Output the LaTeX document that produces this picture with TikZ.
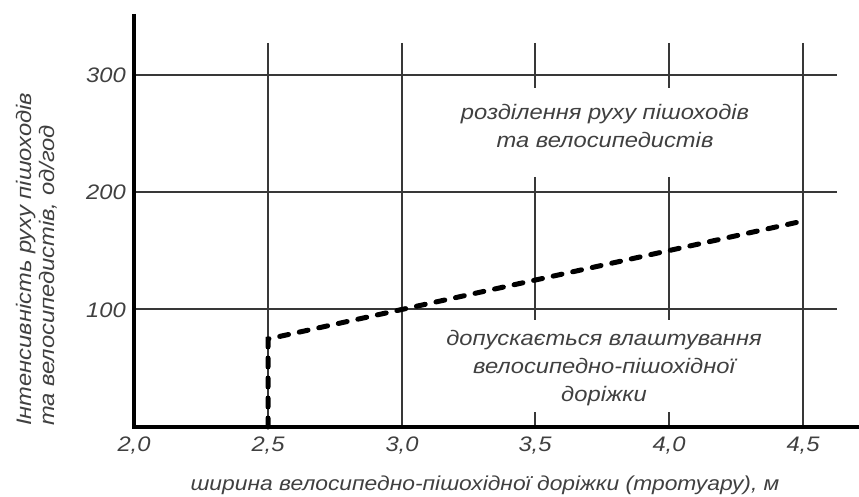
\documentclass[tikz,border=0pt]{standalone}
\usepackage{fontspec}
\setmainfont{Liberation Sans}[FakeStretch=1.13]
\begin{document}
\begin{tikzpicture}[x=1pt,y=-1pt,
  gridline/.style={draw=black!78,line width=1.8pt},
  axisline/.style={draw=black,line width=3.6pt},
  bound/.style={draw=black,line width=5pt,line cap=round,dash pattern=on 9pt off 11pt},
  lbl/.style={text=black!75,inner sep=0pt,font=\fontsize{21}{28}\selectfont\itshape},
  area/.style={lbl,align=center}]
\useasboundingbox (0,0) rectangle (859,497);
% horizontal grid lines
\foreach \yy in {75,192,309} \draw[gridline] (134,\yy) -- (837,\yy);
% vertical grid lines
\foreach \xx in {268,402,803} \draw[gridline] (\xx,43) -- (\xx,427);
\foreach \xx in {535,669} {
  \draw[gridline] (\xx,43) -- (\xx,88);
  \draw[gridline] (\xx,177) -- (\xx,320);
  \draw[gridline] (\xx,412) -- (\xx,427);
}
% axes
\draw[axisline] (134,14) -- (134,427) -- (859,427);
% boundary
\coordinate (b0) at (268,427);
\coordinate (b1) at (268,339);
\coordinate (b2) at (803,221);
\draw[bound] (b0) -- (b1) -- (b2);
% y tick labels
\node[lbl,anchor=base east] (y300) at (126,83) {300};
\node[lbl,anchor=base east] (y200) at (126,200) {200};
\node[lbl,anchor=base east] (y100) at (126,317) {100};
% x tick labels
\node[lbl,anchor=base] (x20) at (134,451) {2,0};
\node[lbl,anchor=base] (x25) at (268,451) {2,5};
\node[lbl,anchor=base] (x30) at (402,451) {3,0};
\node[lbl,anchor=base] (x35) at (535,451) {3,5};
\node[lbl,anchor=base] (x40) at (669,451) {4,0};
\node[lbl,anchor=base] (x45) at (803,451) {4,5};
% axis titles
\node[lbl,anchor=base,font=\fontsize{20.2}{28}\selectfont\itshape] (xt) at (485,490) {ширина велосипедно-пішохідної доріжки (тротуару), м};
\node[lbl,rotate=90,anchor=base west] (yt1) at (31,426) {Інтенсивність руху пішоходів};
\node[lbl,rotate=90,anchor=base west] (yt2) at (54,426) {та велосипедистів, од/год};
% region labels
\node[area] (top) at (605,126) {розділення руху пішоходів\\та велосипедистів};
\node[area] (bot) at (604,368) {допускається влаштування\\велосипедно-пішохідної\\доріжки};
\end{tikzpicture}
\end{document}
